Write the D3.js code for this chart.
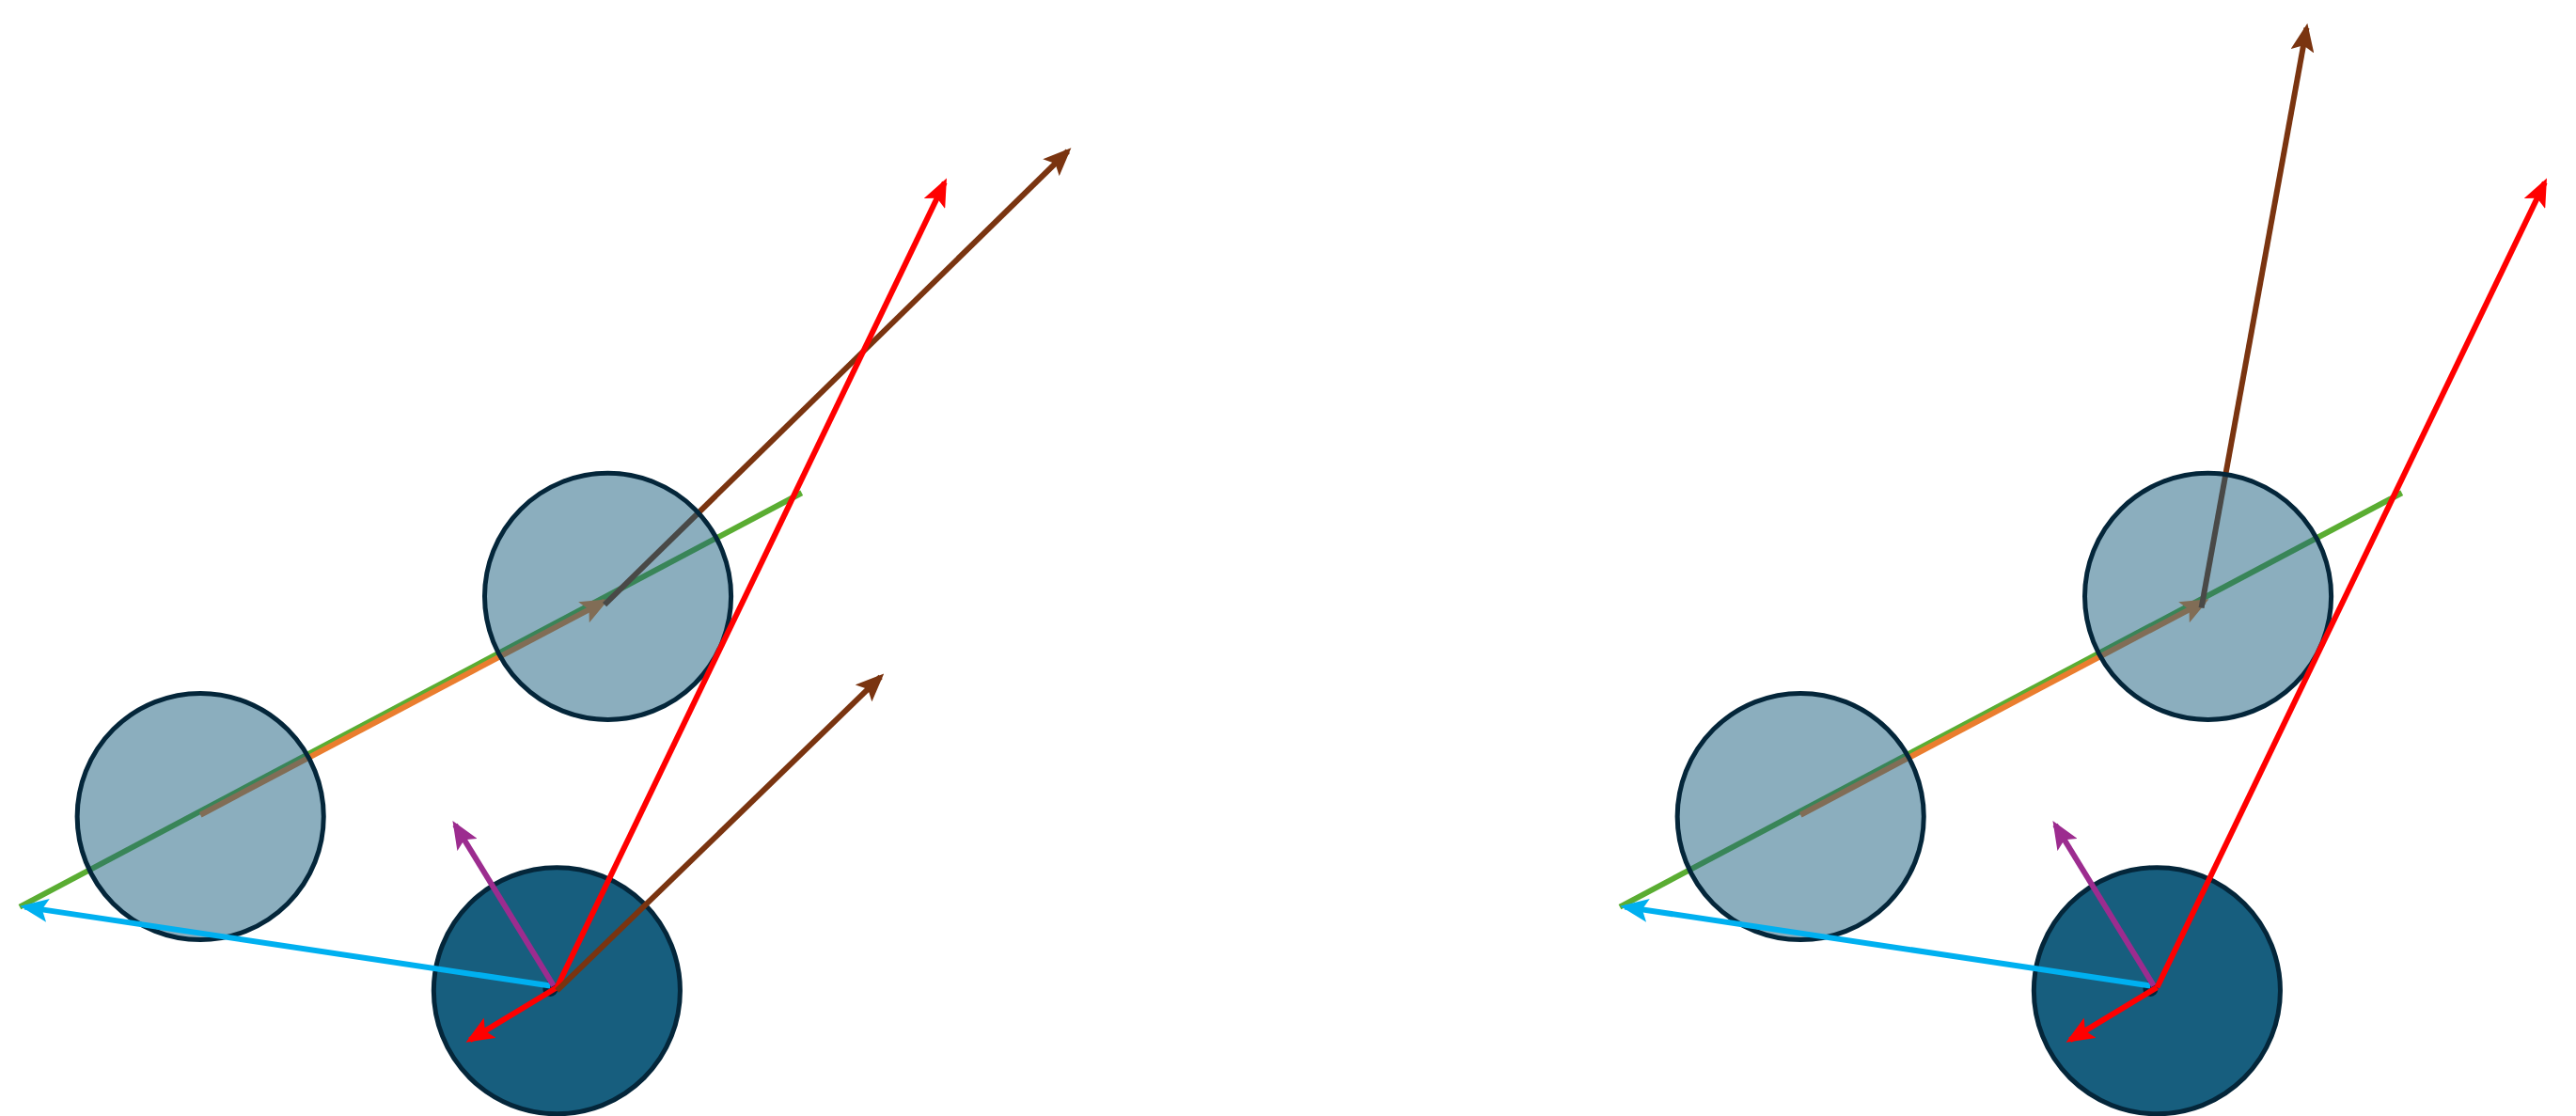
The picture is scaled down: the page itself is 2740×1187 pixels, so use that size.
<!DOCTYPE html><html><head><script src="https://cdn.jsdelivr.net/npm/d3@7"></script>
<style>body{margin:0;background:#fff}</style></head><body><svg id="s" width="2740" height="1187"></svg>
<script>
// Coordinates in reference-display units (1568 wide)
const panelOffsets=[0,974];
const darkCircle=[339,603];
const lightCircles=[[370,363],[122,497]];
const radius=75;
const greenLine=[[12,552],[488,300]];
const orangeArrow=[[122,496],[368,366]];
const cyanArrow=[[335,600],[15,552]];
const purpleArrow=[[337,600],[277,502]];
const redShort=[[339,601],[286,633]];
const redLong=[[339,601],[575,111]];
const brownFromLight=[[[368,368],[650,92]],[[1340,370],[1404,17]]];
const brownShort=[[339,603],[536,412]];
const colors={green:"#5aad32",orange:"#ea7d2e",cyan:"#00b0f0",purple:"#9c2c8f",red:"#ff0000",brown:"#7a3410",fill:"#175e7e",stroke:"#04263a"};

const k=2740/1568;
const x=d3.scaleLinear().domain([0,1568]).range([0,2740]);
const y=d3.scaleLinear().domain([0,680]).range([0,680*k]);
const svg=d3.select("#s");
const defs=svg.append("defs");
["orange","cyan","purple","red","brown"].forEach(c=>{
 defs.append("marker").attr("id","m"+c).attr("viewBox","0 -10 24 20").attr("refX",20).attr("refY",0)
 .attr("markerWidth",30).attr("markerHeight",25).attr("markerUnits","userSpaceOnUse").attr("orient","auto")
 .append("path").attr("d","M0,-10L24,0L0,10L5,0Z").attr("fill",colors[c]);
});
function line(g,p,c,dx,arrow){
 g.append("line").attr("x1",x(p[0][0]+dx)).attr("y1",y(p[0][1])).attr("x2",x(p[1][0]+dx)).attr("y2",y(p[1][1]))
 .attr("stroke",colors[c]).attr("stroke-width",6).attr("marker-end",arrow?`url(#m${c})`:null);
}
panelOffsets.forEach((dx,i)=>{
 const g=svg.append("g");
 line(g,greenLine,"green",dx,false);
 line(g,orangeArrow,"orange",dx,true);
 line(g,brownFromLight[i],"brown",0,true);
 lightCircles.forEach(c=>g.append("circle").attr("cx",x(c[0]+dx)).attr("cy",y(c[1])).attr("r",x(radius))
  .attr("fill",colors.fill).attr("fill-opacity",0.5).attr("stroke",colors.stroke).attr("stroke-width",5));
 g.append("circle").attr("cx",x(darkCircle[0]+dx)).attr("cy",y(darkCircle[1])).attr("r",x(radius))
  .attr("fill",colors.fill).attr("stroke",colors.stroke).attr("stroke-width",5);
 g.append("circle").attr("cx",x(335+dx)).attr("cy",y(602)).attr("r",8).attr("fill",colors.stroke);
 line(g,cyanArrow,"cyan",dx,true);
 line(g,purpleArrow,"purple",dx,true);
 line(g,redLong,"red",dx,true);
 line(g,redShort,"red",dx,true);
 if(i===0) line(g,brownShort,"brown",dx,true);
});
</script></body></html>
